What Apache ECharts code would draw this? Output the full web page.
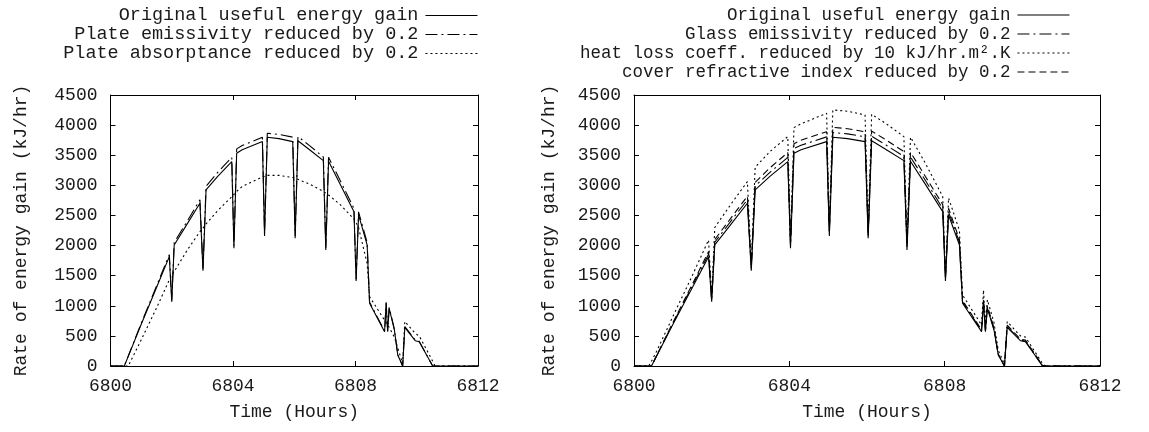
<!DOCTYPE html>
<html>
<head>
<meta charset="utf-8">
<script src="https://cdn.jsdelivr.net/npm/echarts@6/dist/echarts.min.js"></script>
<style>
  html, body { margin: 0; padding: 0; background: #fff; }
  #wrap { position: relative; width: 1149px; height: 432px; }
  #left { position: absolute; left: 0; top: 0; width: 560px; height: 432px; }
  #right { position: absolute; left: 540px; top: 0; width: 609px; height: 432px; }
</style>
</head>
<body>
<div id="wrap"><div id="left"></div><div id="right"></div></div>
<script>
// ---- data ----
const hours = [6800.00, 6800.38, 6800.45, 6800.58, 6801.00, 6801.50, 6801.92, 6802.00, 6802.08, 6802.50,
  6802.92, 6803.02, 6803.12, 6803.50, 6803.96, 6804.03, 6804.12, 6804.30, 6804.96, 6805.03,
  6805.12, 6805.50, 6805.95, 6806.03, 6806.12, 6806.50, 6806.95, 6807.03, 6807.12, 6807.50,
  6807.95, 6808.02, 6808.10, 6808.38, 6808.46, 6808.95, 6809.00, 6809.05, 6809.10, 6809.27,
  6809.38, 6809.54, 6809.61, 6809.95, 6810.08, 6810.52, 6810.60, 6812.00];

const originalGain = [0, 0, 0, 160, 690, 1300, 1816, 1069, 2010, 2356,
  2702, 1584, 2924, 3150, 3394, 1955, 3533, 3590, 3726, 2159,
  3798, 3775, 3726, 2120, 3740, 3590, 3410, 1927, 3400, 3020,
  2563, 1412, 2508, 2010, 1041, 570, 1041, 570, 958, 598,
  183, 0, 640, 420, 404, 0, 0, 0];

const plateEmissivity = [0, 0, 0, 165, 705, 1325, 1850, 1090, 2050, 2400,
  2760, 1615, 2985, 3215, 3465, 1995, 3605, 3660, 3800, 2200,
  3865, 3845, 3800, 2160, 3810, 3660, 3470, 1965, 3465, 3080,
  2615, 1440, 2560, 2050, 1060, 580, 1060, 580, 975, 610,
  187, 0, 655, 430, 412, 0, 0, 0];

const plateAbsorptance = [0, 0, 0, 0, 430, 960, 1430, 1500, 1570, 1920,
  2230, 2290, 2360, 2580, 2810, 2850, 2900, 2980, 3140, 3150,
  3165, 3165, 3130, 3115, 3100, 3020, 2900, 2870, 2840, 2680,
  2440, 2380, 2300, 1700, 1150, 760, 720, 680, 640, 480,
  300, 40, 740, 540, 500, 80, 0, 0];

const glassEmissivity = [0, 0, 0, 165, 705, 1330, 1855, 1090, 2055, 2410,
  2760, 1620, 2990, 3215, 3465, 2000, 3610, 3665, 3805, 2205,
  3876, 3855, 3805, 2165, 3815, 3665, 3480, 1970, 3470, 3085,
  2615, 1440, 2560, 2055, 1065, 585, 1065, 585, 980, 610,
  190, 0, 655, 430, 412, 0, 0, 0];

const heatLossReduced = [0, 0, 80, 240, 820, 1500, 2093, 1150, 2300, 2690,
  3062, 1680, 3300, 3560, 3809, 2080, 3960, 4020, 4197, 2300,
  4252, 4230, 4169, 2250, 4180, 4020, 3809, 2050, 3800, 3370,
  2813, 1480, 2790, 2250, 1180, 680, 1262, 700, 1100, 720,
  260, 30, 736, 500, 480, 40, 0, 0];

const coverRefractive = [0, 0, 0, 170, 720, 1355, 1900, 1110, 2100, 2460,
  2820, 1650, 3050, 3290, 3545, 2040, 3690, 3750, 3890, 2250,
  3964, 3940, 3890, 2210, 3900, 3750, 3560, 2010, 3550, 3150,
  2680, 1470, 2620, 2100, 1090, 600, 1100, 600, 1000, 630,
  200, 0, 680, 445, 430, 10, 0, 0];

const leftNames = ['Original useful energy gain', 'Plate emissivity reduced by 0.2', 'Plate absorptance reduced by 0.2'];
const rightNames = ['Original useful energy gain', 'Glass emissivity reduced by 0.2',
  'heat loss coeff. reduced by 10 kJ/hr.m\u00B2.K', 'cover refractive index reduced by 0.2'];
const xTitle = 'Time (Hours)';
const yTitle = 'Rate of energy gain (kJ/hr)';
const xMin = 6800, xMax = 6812, xStep = 4;
const yMin = 0, yMax = 4500, yStep = 500;

// ---- styling ----
const FONT = 'Liberation Mono';
const TXT = '#1a1a1a';
const SOLID = 'solid';
const DASHDOT = [12, 4, 2, 4];
const DOTTED = [2, 3];
const DASHED = [7, 4];

function pairs(vals) { return hours.map((h, i) => [h, vals[i]]); }

function lineSeries(name, vals, type) {
  return {
    name: name, type: 'line', data: pairs(vals), symbol: 'none', showSymbol: false,
    animation: false, clip: true,
    lineStyle: { color: '#000', width: 1.1, type: type },
    itemStyle: { color: '#000' },
    emphasis: { disabled: true }
  };
}

function axes(nameGapY) {
  const lbl = { fontFamily: FONT, fontSize: 18, color: TXT };
  const tick = { show: true, inside: true, length: 5, lineStyle: { color: '#000', width: 1 } };
  const line = { show: true, onZero: false, lineStyle: { color: '#000', width: 1 } };
  return {
    xAxis: [
      { type: 'value', min: xMin, max: xMax, interval: xStep, position: 'bottom',
        axisLine: line, axisTick: tick, splitLine: { show: false },
        axisLabel: Object.assign({ margin: 11, formatter: v => String(v) }, lbl),
        name: xTitle, nameLocation: 'middle', nameGap: 37,
        nameTextStyle: { fontFamily: FONT, fontSize: 18, color: TXT } },
      { type: 'value', min: xMin, max: xMax, interval: xStep, position: 'top',
        axisLine: line, axisTick: tick, splitLine: { show: false }, axisLabel: { show: false } }
    ],
    yAxis: [
      { type: 'value', min: yMin, max: yMax, interval: yStep, position: 'left',
        axisLine: line, axisTick: tick, splitLine: { show: false },
        axisLabel: Object.assign({ margin: 13, formatter: v => String(v) }, lbl),
        name: yTitle, nameLocation: 'middle', nameGap: nameGapY, nameRotate: 90,
        nameTextStyle: { fontFamily: FONT, fontSize: 18, color: TXT } },
      { type: 'value', min: yMin, max: yMax, interval: yStep, position: 'right',
        axisLine: line, axisTick: tick, splitLine: { show: false }, axisLabel: { show: false } }
    ]
  };
}

function legends(names, right, tops, fontSize) {
  return names.map((n, i) => ({
    data: [n], right: right, top: tops[i], orient: 'horizontal', align: 'right',
    padding: 0, itemWidth: 52, itemHeight: 12, itemGap: 0, selectedMode: false,
    itemStyle: { opacity: 0, borderWidth: 0 },
    lineStyle: { color: '#000', width: 1.1 },
    textStyle: { fontFamily: FONT, fontSize: fontSize, color: TXT, padding: [0, 2, 0, 0] }
  }));
}

const leftChart = echarts.init(document.getElementById('left'), null, { renderer: 'canvas' });
leftChart.setOption(Object.assign({
  animation: false,
  grid: { left: 110.5, right: 560 - 478, top: 95, bottom: 66, containLabel: false, outerBoundsMode: 'none' },
  legend: legends(leftNames, 560 - 478, [6, 25, 44], 18.5),
  series: [
    lineSeries(leftNames[0], originalGain, SOLID),
    lineSeries(leftNames[1], plateEmissivity, DASHDOT),
    lineSeries(leftNames[2], plateAbsorptance, DOTTED)
  ]
}, axes(80)));

const rightChart = echarts.init(document.getElementById('right'), null, { renderer: 'canvas' });
rightChart.setOption(Object.assign({
  animation: false,
  grid: { left: 634 - 540, right: 49, top: 95, bottom: 66, containLabel: false, outerBoundsMode: 'none' },
  legend: legends(rightNames, 79, [6, 25, 44, 63], 17.5),
  series: [
    lineSeries(rightNames[0], originalGain, SOLID),
    lineSeries(rightNames[1], glassEmissivity, DASHDOT),
    lineSeries(rightNames[2], heatLossReduced, DOTTED),
    lineSeries(rightNames[3], coverRefractive, DASHED)
  ]
}, axes(76)));
</script>
</body>
</html>
